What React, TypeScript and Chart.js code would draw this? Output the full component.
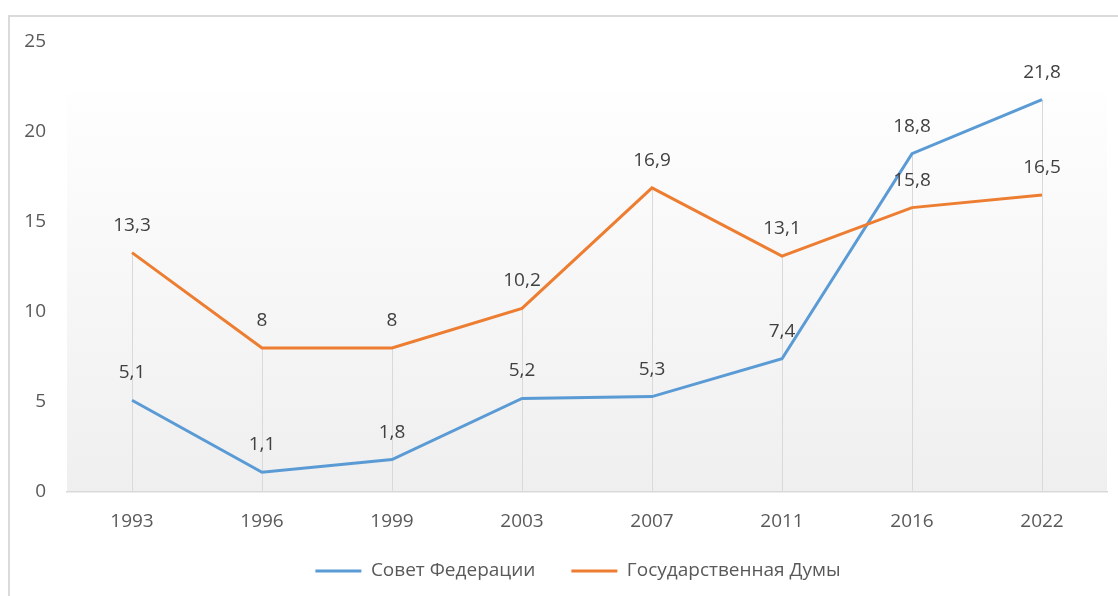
import React, { useEffect, useRef } from "react";
import { Chart, registerables } from "chart.js";

Chart.register(...registerables);

const years = ["1993", "1996", "1999", "2003", "2007", "2011", "2016", "2022"];
const sovetFederacii = [5.1, 1.1, 1.8, 5.2, 5.3, 7.4, 18.8, 21.8];
const gosDuma = [13.3, 8, 8, 10.2, 16.9, 13.1, 15.8, 16.5];
const seriesNames = ["Совет Федерации", "Государственная Думы"];
const yTicks = [0, 5, 10, 15, 20, 25];

const FONT = "'Open Sans', 'Noto Sans', sans-serif";

const backgroundPlugin = {
  id: "plotBg",
  beforeDraw(chart: any) {
    const { ctx, chartArea } = chart;
    const yScale = chart.scales.y;
    const top = yScale.getPixelForValue(22.17);
    const bottom = chartArea.bottom;
    const g = ctx.createLinearGradient(0, top, 0, bottom);
    g.addColorStop(0, "#fefefe");
    g.addColorStop(1, "#efefef");
    ctx.save();
    ctx.fillStyle = g;
    ctx.fillRect(chartArea.left, top, chartArea.right - chartArea.left, bottom - top);
    ctx.restore();
  },
};

const dropLinesPlugin = {
  id: "dropLines",
  beforeDatasetsDraw(chart: any) {
    const { ctx, chartArea } = chart;
    const xScale = chart.scales.x;
    const yScale = chart.scales.y;
    ctx.save();
    ctx.strokeStyle = "#d9d9d9";
    ctx.lineWidth = 1;
    years.forEach((_, i) => {
      const maxV = Math.max(...chart.data.datasets.map((d: any) => d.data[i]));
      const x = Math.round(xScale.getPixelForValue(i)) + 0.5;
      ctx.beginPath();
      ctx.moveTo(x, yScale.getPixelForValue(maxV));
      ctx.lineTo(x, chartArea.bottom);
      ctx.stroke();
    });
    ctx.restore();
  },
};

const dataLabelsPlugin = {
  id: "dataLabels",
  afterDatasetsDraw(chart: any) {
    const { ctx } = chart;
    ctx.save();
    ctx.font = `19px ${FONT}`;
    ctx.fillStyle = "#404040";
    ctx.textAlign = "center";
    ctx.textBaseline = "middle";
    chart.data.datasets.forEach((ds: any, di: number) => {
      const meta = chart.getDatasetMeta(di);
      meta.data.forEach((pt: any, i: number) => {
        const txt = String(ds.data[i]).replace(".", ",");
        ctx.fillText(txt, pt.x, pt.y - 27.5);
      });
    });
    ctx.restore();
  },
};

const legendPlacePlugin = {
  id: "legendPlace",
  afterLayout(chart: any) {
    const lg = chart.legend;
    if (!lg) return;
    lg.left = lg.left + 49;
    lg.top = 525.5;
    lg.bottom = 596;
    lg.height = lg.bottom - lg.top;
  },
};

export default function App() {
  const ref = useRef<HTMLCanvasElement>(null);
  useEffect(() => {
    if (!ref.current) return;
    const chart = new Chart(ref.current, {
      type: "line",
      data: {
        labels: years,
        datasets: [
          {
            label: seriesNames[0],
            data: sovetFederacii,
            borderColor: "#5B9BD5",
            backgroundColor: "#5B9BD5",
            borderWidth: 3,
            pointRadius: 0,
            tension: 0,
            order: 2,
          },
          {
            label: seriesNames[1],
            data: gosDuma,
            borderColor: "#ED7D31",
            backgroundColor: "#ED7D31",
            borderWidth: 3,
            pointRadius: 0,
            tension: 0,
            order: 1,
          },
        ],
      },
      options: {
        animation: false,
        responsive: false,
        devicePixelRatio: 1,
        layout: { padding: { top: 42, right: 11, bottom: 12, left: 0 } },
        plugins: {
          tooltip: { enabled: false },
          legend: {
            position: "bottom",
            maxHeight: 40,
            labels: {
              usePointStyle: true,
              pointStyle: "line",
              pointStyleWidth: 46,
              padding: 36,
              color: "#595959",
              font: { family: FONT, size: 19 },
              sort: (a: any, b: any) => a.datasetIndex - b.datasetIndex,
            },
          },
        },
        scales: {
          x: {
            offset: true,
            grid: { display: false, drawTicks: false },
            border: { display: true, color: "#d9d9d9", width: 1.5 },
            ticks: {
              padding: 18,
              color: "#595959",
              font: { family: FONT, size: 19 },
              maxRotation: 0,
            },
            afterFit: (s: any) => {
              s.height = 52;
            },
          },
          y: {
            min: 0,
            max: 25,
            afterBuildTicks: (s: any) => {
              s.ticks = yTicks.map((v) => ({ value: v }));
            },
            grid: { display: false, drawTicks: false },
            border: { display: false },
            ticks: {
              padding: 21,
              color: "#595959",
              font: { family: FONT, size: 19 },
            },
            afterFit: (s: any) => {
              s.width = 67;
            },
          },
        },
      },
      plugins: [backgroundPlugin, dropLinesPlugin, dataLabelsPlugin, legendPlacePlugin],
    });
    return () => chart.destroy();
  }, []);

  return (
    <div style={{ position: "absolute", left: 0, top: 0, width: 1118, height: 596, background: "#fff", overflow: "hidden" }}>
      <div
        style={{
          position: "absolute",
          left: 8,
          top: 15,
          width: 1112,
          height: 583,
          borderLeft: "2px solid #dadada",
          borderTop: "2px solid #dadada",
          boxSizing: "border-box",
        }}
      />
      <canvas ref={ref} width={1118} height={596} style={{ position: "absolute", left: 0, top: 0 }} />
    </div>
  );
}
